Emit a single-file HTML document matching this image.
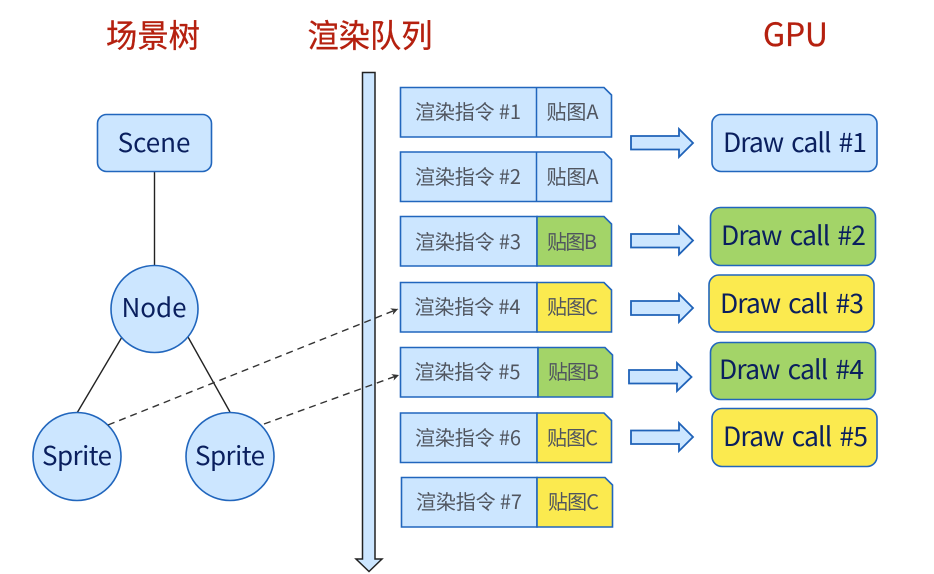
<!DOCTYPE html>
<html><head><meta charset="utf-8"><style>
html,body{margin:0;padding:0;background:#fff}
svg{display:block}
text{font-family:"Noto Sans CJK SC","Liberation Sans",sans-serif}
.t{fill:#b5200f;font-size:32px;font-weight:400;stroke:#b5200f;stroke-width:0.300}
.n{fill:#0a1f5e;font-size:26px;text-anchor:middle}
.d{fill:#0a1f5e;font-size:26.500px;word-spacing:3px}
.g{fill:#50555f;font-size:20px}
.b{fill:#cce6ff;stroke:#2166bd;stroke-width:1.6}
.a{fill:#cce6ff;stroke:#1f62b8;stroke-width:1.8}
</style></head><body>
<svg width="934" height="574" viewBox="0 0 934 574" xmlns="http://www.w3.org/2000/svg">
<defs><marker id="m" markerWidth="10" markerHeight="10" refX="8" refY="4" orient="auto" markerUnits="userSpaceOnUse"><path d="M1,0.5 L8,4 L1,7.5 L3,4 Z" fill="#333"/></marker></defs>

<text class="t" x="106" y="47" textLength="94" lengthAdjust="spacingAndGlyphs">场景树</text>
<text class="t" x="307.500" y="47" textLength="125" lengthAdjust="spacingAndGlyphs">渲染队列</text>
<text class="t" x="763" y="46" textLength="65">GPU</text>

<!-- tree -->
<g stroke="#222" stroke-width="1.4" fill="none">
<line x1="154.500" y1="170" x2="154.500" y2="266"/>
<line x1="122" y1="337" x2="77" y2="413"/>
<line x1="188" y1="337" x2="230" y2="412"/>
</g>
<rect class="b" x="97.500" y="114.500" width="114" height="57" rx="9"/>
<text class="n" x="154" y="152">Scene</text>
<circle class="b" cx="154.500" cy="309" r="43.500"/>
<text class="n" x="154" y="317">Node</text>
<circle class="b" cx="77" cy="456.500" r="44"/>
<text class="n" x="77" y="465" textLength="70">Sprite</text>
<circle class="b" cx="230" cy="456.500" r="44"/>
<text class="n" x="230" y="465" textLength="70">Sprite</text>

<!-- queue arrow -->
<path d="M362.500,72.500 H375 V559 H382 L369,571.500 L356,559 H362.500 Z" fill="#cce6ff" stroke="#222" stroke-width="1.500"/>

<!-- rows -->
<g>
<path class="b" d="M400.500,87.500 H604 L611.500,95 V137 H400.500 Z"/>
<line x1="536.500" y1="87.500" x2="536.500" y2="137" stroke="#2166bd" stroke-width="1.500"/>
<text class="g" x="415" y="119" textLength="106">渲染指令 #1</text>
<text class="g" x="546.500" y="119" textLength="52">贴图A</text>

<path class="b" d="M400.500,152 H604 L611.500,159.500 V201.500 H400.500 Z"/>
<line x1="536.500" y1="152" x2="536.500" y2="201.500" stroke="#2166bd" stroke-width="1.500"/>
<text class="g" x="415" y="184" textLength="106">渲染指令 #2</text>
<text class="g" x="546.500" y="184" textLength="52">贴图A</text>

<path class="b" d="M400.500,216.500 H537 V266 H400.500 Z"/>
<path d="M537,216.500 H604 L611.500,224 V266 H537 Z" fill="#a3d468" stroke="#2166bd" stroke-width="1.600"/>
<text class="g" x="415" y="249" textLength="106">渲染指令 #3</text>
<text class="g" x="547" y="249" textLength="50">贴图B</text>

<path class="b" d="M400.500,282.500 H537 V332 H400.500 Z"/>
<path d="M537,282.500 H604 L611.500,290 V332 H537 Z" fill="#fbea4f" stroke="#2166bd" stroke-width="1.600"/>
<text class="g" x="414.500" y="314" textLength="106">渲染指令 #4</text>
<text class="g" x="547" y="314" textLength="51">贴图C</text>

<path class="b" d="M400.500,347.500 H538 V397 H400.500 Z"/>
<path d="M538,347.500 H605 L612.500,355 V397 H538 Z" fill="#a3d468" stroke="#2166bd" stroke-width="1.600"/>
<text class="g" x="414.500" y="379" textLength="106">渲染指令 #5</text>
<text class="g" x="548" y="379" textLength="51">贴图B</text>

<path class="b" d="M400.500,413 H537 V462.500 H400.500 Z"/>
<path d="M537,413 H604 L611.500,420.500 V462.500 H537 Z" fill="#fbea4f" stroke="#2166bd" stroke-width="1.600"/>
<text class="g" x="415" y="445" textLength="106">渲染指令 #6</text>
<text class="g" x="547" y="445" textLength="51">贴图C</text>

<path class="b" d="M401.500,477.500 H537 V527 H401.500 Z"/>
<path d="M537,477.500 H605 L612.500,485 V527 H537 Z" fill="#fbea4f" stroke="#2166bd" stroke-width="1.600"/>
<text class="g" x="416" y="509" textLength="106">渲染指令 #7</text>
<text class="g" x="548" y="509" textLength="51">贴图C</text>
</g>

<!-- dashed -->
<g stroke="#333" stroke-width="1.400" stroke-dasharray="7 5" fill="none">
<line x1="108" y1="425" x2="398" y2="309" marker-end="url(#m)"/>
<line x1="264" y1="424" x2="399" y2="375" marker-end="url(#m)"/>
</g>

<!-- arrows -->
<path class="a" d="M631,136 H679 V129 L693,143 L679,157 V149.500 H631 Z"/>
<path class="a" d="M631,234 H679 V226.500 L693,240.500 L679,254.500 V247.500 H631 Z"/>
<path class="a" d="M631,301 H679 V294 L693,308 L679,322 V315 H631 Z"/>
<path class="a" d="M629,370 H677 V363 L691.500,377 L677,391 V383.500 H629 Z"/>
<path class="a" d="M631,430.500 H679 V423 L693,437 L679,451 V444 H631 Z"/>

<!-- draw calls -->
<rect class="b" x="712" y="114.500" width="165" height="57" rx="9"/>
<text class="d" x="723" y="152" textLength="144">Draw call #1</text>
<rect class="b" x="710.500" y="207.500" width="165" height="58" rx="10" style="fill:#a3d468"/>
<text class="d" x="721" y="245" textLength="145">Draw call #2</text>
<rect class="b" x="709" y="275" width="165" height="57" rx="10" style="fill:#fbea4f"/>
<text class="d" x="720" y="313" textLength="144">Draw call #3</text>
<rect class="b" x="710.500" y="342.500" width="165" height="57" rx="10" style="fill:#a3d468"/>
<text class="d" x="719" y="379" textLength="145">Draw call #4</text>
<rect class="b" x="712" y="408.500" width="165" height="58" rx="10" style="fill:#fbea4f"/>
<text class="d" x="723" y="446" textLength="145">Draw call #5</text>
</svg>
</body></html>
